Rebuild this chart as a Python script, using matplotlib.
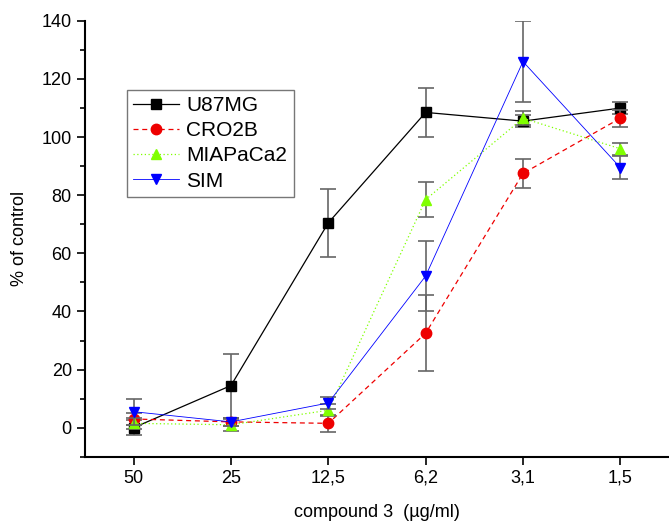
import numpy as np
import matplotlib
matplotlib.use('Agg')
import matplotlib.pyplot as plt

plt.rcParams['font.family'] = ['Liberation Sans', 'DejaVu Sans']

doses = ['50', '25', '12,5', '6,2', '3,1', '1,5']

u87 = [0, 14.5, 70.5, 108.5, 105.5, 110]
u87_err = [2.5, 11, 11.8, 8.3, 2, 2]
cro = [3, 2, 1.5, 32.5, 87.5, 106.5]
cro_err = [2, 1.5, 3, 13, 5, 3]
mia = [1.5, 1, 6, 78.5, 106.5, 96]
mia_err = [2, 2, 2, 6, 2.5, 2]
sim = [5.5, 2, 8.5, 52.2, 126, 89.5]
sim_err = [4.5, 1.5, 2, 12, 14, 4]

fig = plt.figure(figsize=(6.69, 5.22), dpi=100)
ax = fig.add_axes([0.127, 0.125, 0.873, 0.835])

x = np.arange(len(doses))
series = [
    (u87, u87_err, 'U87MG', 'black', 's', '-', 0.9),
    (cro, cro_err, 'CRO2B', '#ee0000', 'o', (0, (4, 3)), 0.9),
    (mia, mia_err, 'MIAPaCa2', '#80ff00', '^', (0, (1, 2)), 0.9),
    (sim, sim_err, 'SIM', '#0000ff', 'v', '-', 0.6),
]
for y, e, name, c, m, ls, lw in series:
    ax.errorbar(x, y, yerr=e, fmt='none', ecolor='#666666', elinewidth=1.2,
                capsize=6, capthick=1.2)
    ax.plot(x, y, color=c, marker=m, markersize=7.5, linestyle=ls,
            linewidth=lw, label=name)

ax.set_xlim(-0.5, 5.5)
ax.set_ylim(-10, 140)
ax.set_xticks(x)
ax.set_xticklabels(doses)
ax.set_yticks(np.arange(0, 141, 20))
ax.set_yticks(np.arange(-10, 141, 10), minor=True)
ax.tick_params(labelsize=13, width=1.2, length=6)
ax.tick_params(which='minor', width=1.2, length=3.5)
ax.spines['top'].set_visible(False)
ax.spines['right'].set_visible(False)
ax.spines['left'].set_linewidth(1.5)
ax.spines['bottom'].set_linewidth(1.5)

ax.set_xlabel('compound 3  (µg/ml)', fontsize=13, labelpad=12)
ax.set_ylabel('% of control', fontsize=13, labelpad=10)

leg = ax.legend(loc='upper left', bbox_to_anchor=(0.072, 0.842), fontsize=15,
                fancybox=False, edgecolor='#555555', handlelength=2.2,
                borderpad=0.3, labelspacing=0.3, handletextpad=0.35,
                borderaxespad=0)
leg.get_frame().set_linewidth(1.0)

fig.savefig('out.png', dpi=100)
